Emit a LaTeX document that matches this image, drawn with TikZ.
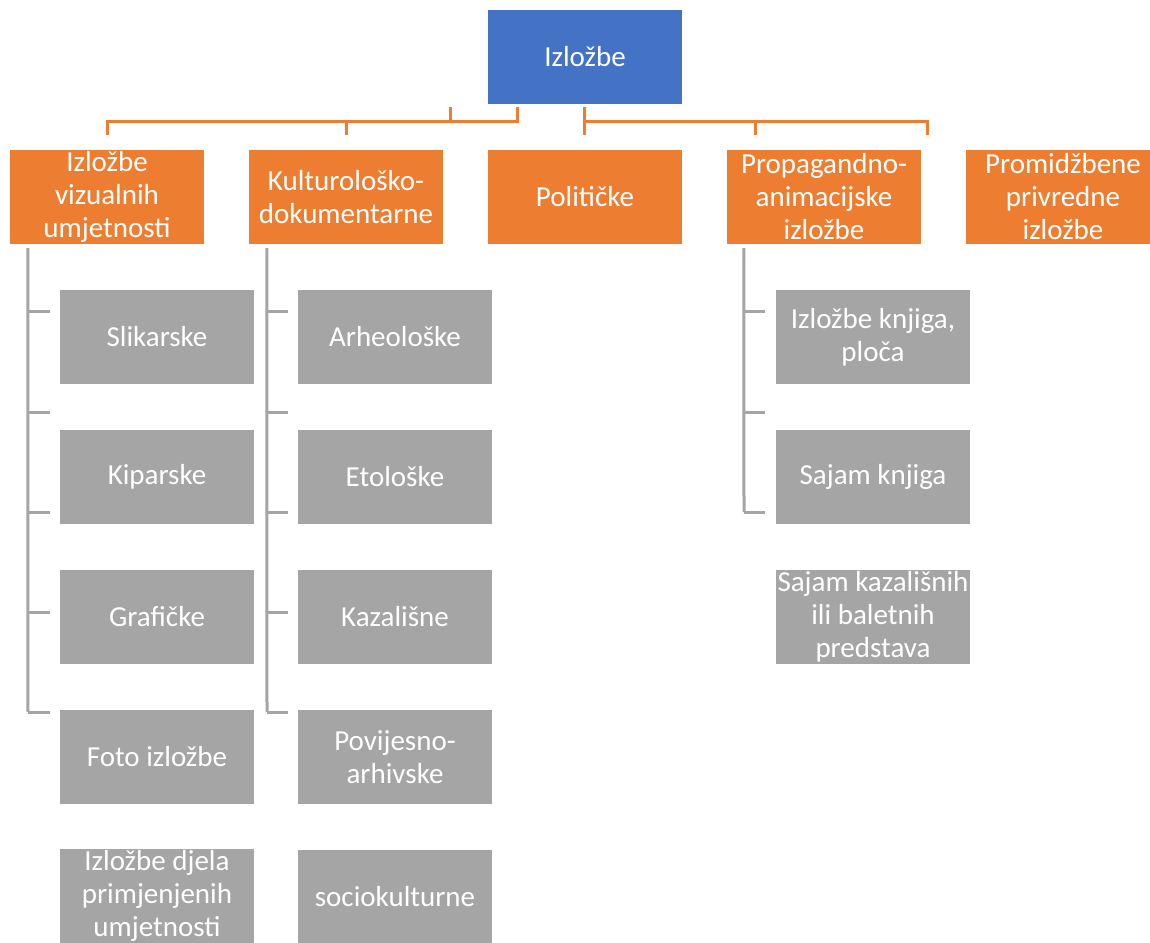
\documentclass[tikz,border=0pt]{standalone}
\usepackage{fontspec}
\setmainfont{Carlito}
\definecolor{blueA}{HTML}{4472C4}
\definecolor{orangeA}{HTML}{ED7D31}
\definecolor{grayA}{HTML}{A5A5A5}
\tikzset{
  box/.style={minimum width=194pt, minimum height=94pt, inner sep=0pt, align=center,
    text=white, font=\fontsize{29}{33}\selectfont},
  rootbox/.style={box, fill=blueA},
  catbox/.style={box, fill=orangeA},
  subbox/.style={box, fill=grayA},
  olink/.style={draw=orangeA, line width=3pt},
  glink/.style={draw=grayA, line width=3pt},
}

\begin{document}
\begin{tikzpicture}[x=1pt,y=-1pt]
\useasboundingbox (0,0) rectangle (1150,942);
\node[rootbox] (root) at (585,57) {Izložbe};
\node[catbox] (vis) at (107,197) {Izložbe\\vizualnih\\umjetnosti};
\node[catbox] (kul) at (346,197) {Kulturološko-\\dokumentarne};
\node[catbox] (pol) at (585,197) {Političke};
\node[catbox] (pro) at (824,197) {Propagandno-\\animacijske\\izložbe};
\node[catbox] (pri) at (1063,197) {Promidžbene\\privredne\\izložbe};

\node[subbox] (sli) at (157,337) {Slikarske};
\node[subbox] (kip) at (157,477) {Kiparske};
\node[subbox] (gra) at (157,617) {Grafičke};
\node[subbox] (fot) at (157,757) {Foto izložbe};
\node[subbox] (prm) at (157,896) {Izložbe djela\\primjenjenih\\umjetnosti};

\node[subbox] (arh) at (395,337) {Arheološke};
\node[subbox] (eto) at (395,477) {Etološke};
\node[subbox] (kaz) at (395,617) {Kazališne};
\node[subbox] (pov) at (395,757) {Povijesno-\\arhivske};
\node[subbox] (soc) at (395,897) {sociokulturne};

\node[subbox] (knj) at (873,337) {Izložbe knjiga,\\ploča};
\node[subbox] (saj) at (873,477) {Sajam knjiga};
\node[subbox] (bal) at (873,617) {Sajam kazališnih\\ili baletnih\\predstava};

\coordinate (bus) at ([yshift=-17pt]root.south);
\draw[olink] ([yshift=15pt]vis.north) |- (bus -| 517,0) -- ++(0,-14);
\draw[olink] ([yshift=15pt]kul.north) -- (bus -| kul.north);
\draw[olink] (bus -| 450,0) -- ++(0,-14);
\draw[olink] ([yshift=-3pt]root.south -| 584,0) -- ([yshift=15pt]pol.north -| 584,0);
\draw[olink] (bus -| 584,0) -| ([yshift=15pt]pri.north -| 927,0);
\draw[olink] (bus -| 755,0) -- ([yshift=15pt]pro.north -| 755,0);

\draw[glink] ([shift={(18,4)}]vis.south west) -- (28,712);
\foreach \y in {311,412,512,612,712} \draw[glink] (28,\y) -- (50,\y);
\draw[glink] ([shift={(18,4)}]kul.south west) -- (267,712);
\foreach \y in {311,412,512,612,712} \draw[glink] (267,\y) -- (288,\y);
\draw[glink] ([shift={(17,4)}]pro.south west) -- (744,512);
\foreach \y in {311,412,512} \draw[glink] (744,\y) -- (765,\y);
\end{tikzpicture}
\end{document}
